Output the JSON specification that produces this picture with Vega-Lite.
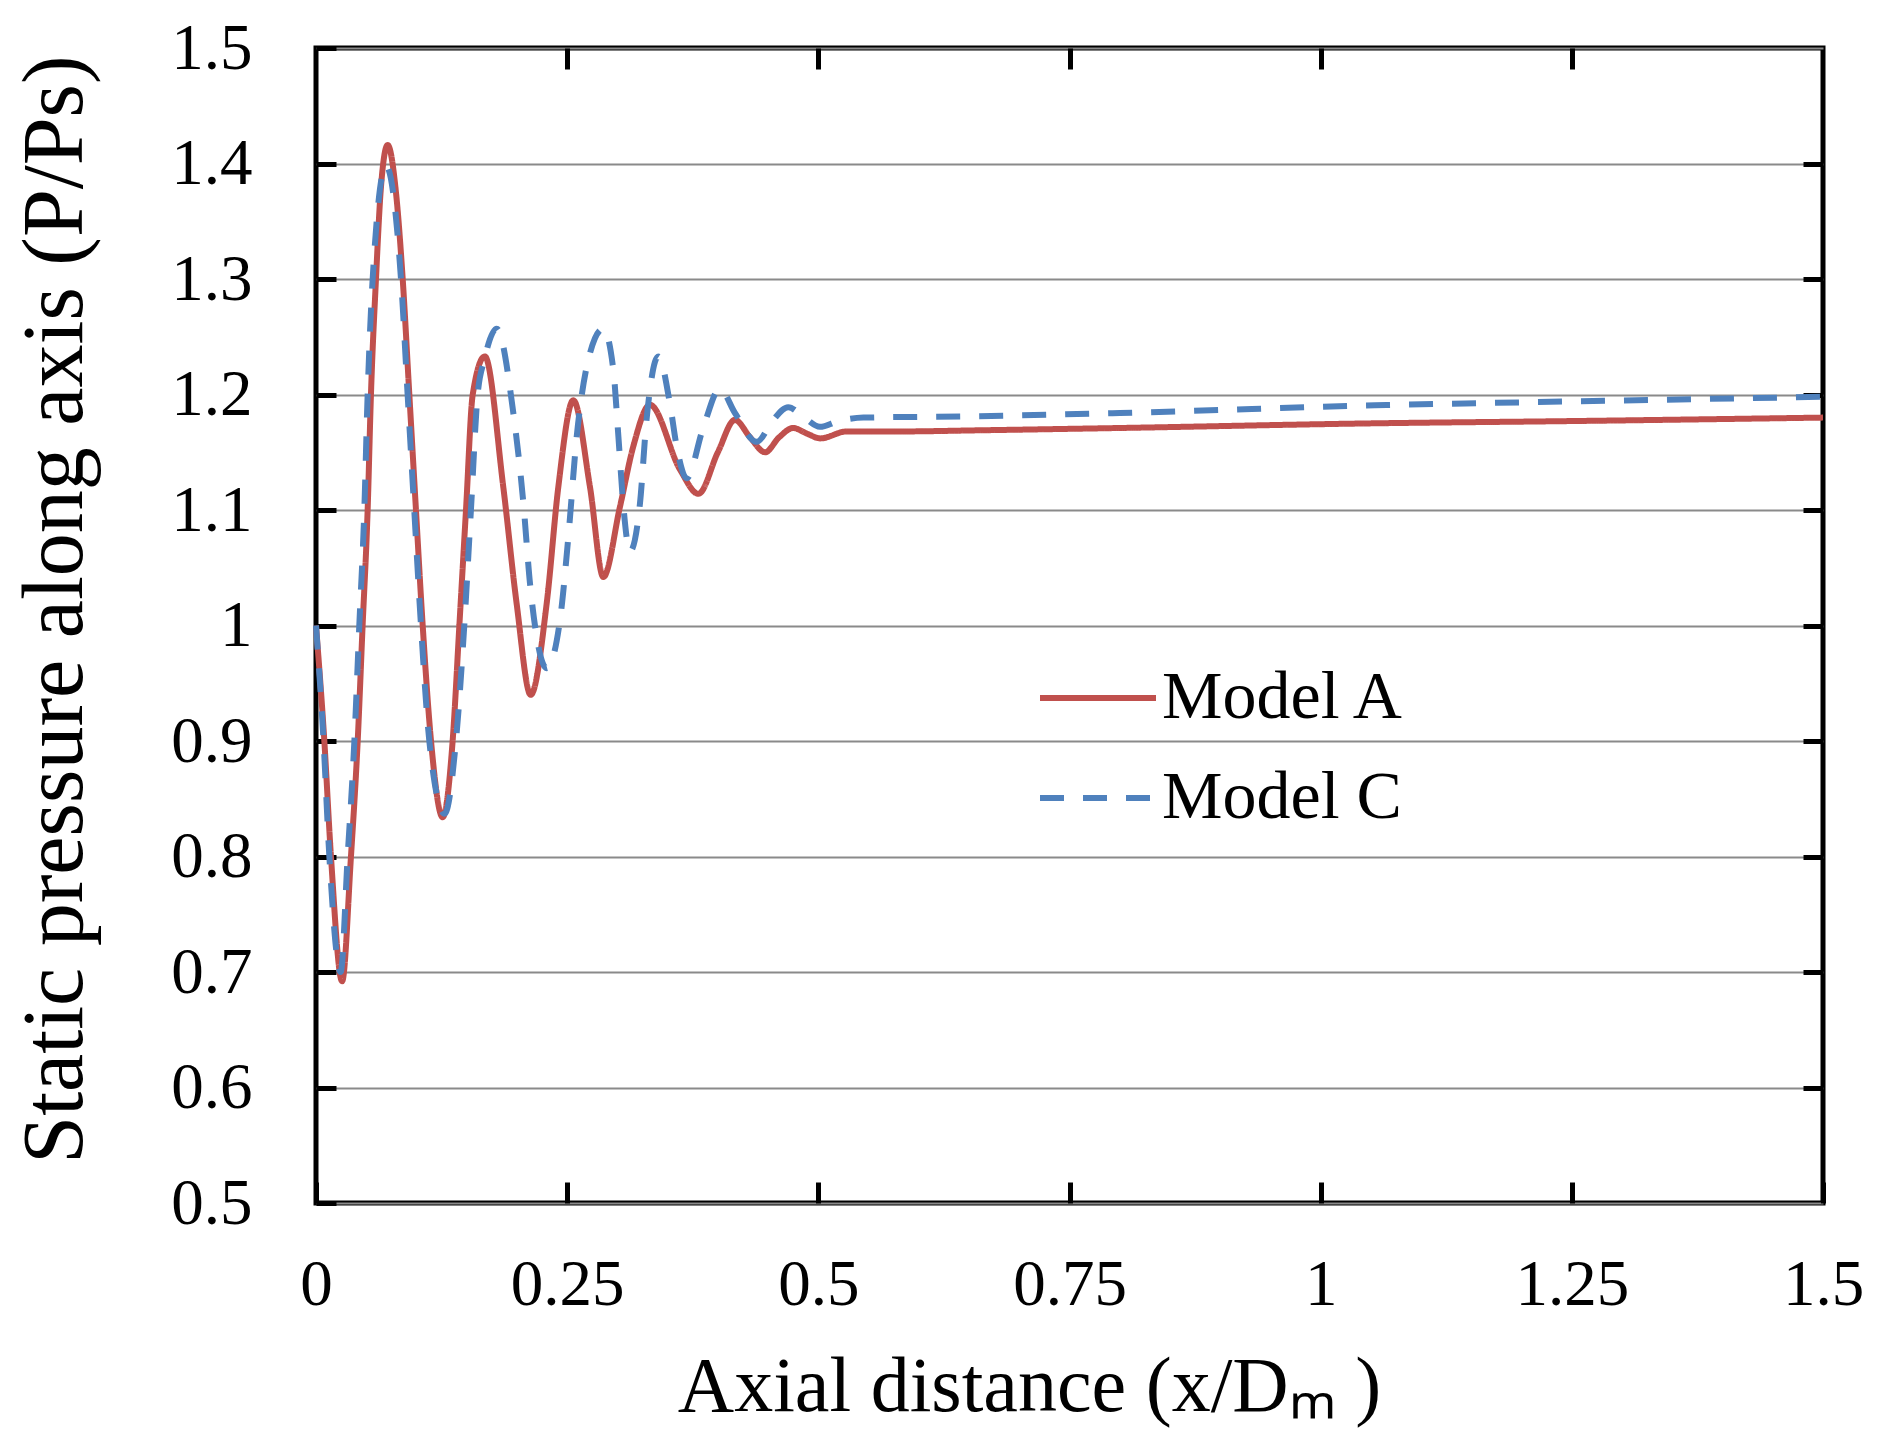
{
  "$schema": "https://vega.github.io/schema/vega-lite/v6.json",
  "width": 1507,
  "height": 1155,
  "autosize": {"type": "none"},
  "padding": {"left": 316, "top": 48, "right": 58, "bottom": 242},
  "background": "white",
  "config": {
    "view": {"stroke": "black", "strokeWidth": 5},
    "font": "Liberation Serif"
  },
  "data": {
    "values": [
      {"x": 0, "p": 1.0, "model": "Model A"},
      {"x": 0.0083, "p": 0.9, "model": "Model A"},
      {"x": 0.0149, "p": 0.8, "model": "Model A"},
      {"x": 0.026, "p": 0.692, "model": "Model A"},
      {"x": 0.0348, "p": 0.8, "model": "Model A"},
      {"x": 0.0415, "p": 0.9, "model": "Model A"},
      {"x": 0.0464, "p": 1.0, "model": "Model A"},
      {"x": 0.0514, "p": 1.1, "model": "Model A"},
      {"x": 0.0547, "p": 1.2, "model": "Model A"},
      {"x": 0.0597, "p": 1.3, "model": "Model A"},
      {"x": 0.0647, "p": 1.38, "model": "Model A"},
      {"x": 0.0713, "p": 1.416, "model": "Model A"},
      {"x": 0.0796, "p": 1.375, "model": "Model A"},
      {"x": 0.0863, "p": 1.3, "model": "Model A"},
      {"x": 0.0929, "p": 1.2, "model": "Model A"},
      {"x": 0.0995, "p": 1.1, "model": "Model A"},
      {"x": 0.1062, "p": 1.0, "model": "Model A"},
      {"x": 0.1145, "p": 0.9, "model": "Model A"},
      {"x": 0.1261, "p": 0.834, "model": "Model A"},
      {"x": 0.136, "p": 0.9, "model": "Model A"},
      {"x": 0.1427, "p": 1.0, "model": "Model A"},
      {"x": 0.1493, "p": 1.1, "model": "Model A"},
      {"x": 0.156, "p": 1.2, "model": "Model A"},
      {"x": 0.168, "p": 1.233, "model": "Model A"},
      {"x": 0.1864, "p": 1.12, "model": "Model A"},
      {"x": 0.1997, "p": 1.019, "model": "Model A"},
      {"x": 0.2137, "p": 0.94, "model": "Model A"},
      {"x": 0.2296, "p": 1.019, "model": "Model A"},
      {"x": 0.2412, "p": 1.12, "model": "Model A"},
      {"x": 0.2561, "p": 1.195, "model": "Model A"},
      {"x": 0.2727, "p": 1.12, "model": "Model A"},
      {"x": 0.286, "p": 1.042, "model": "Model A"},
      {"x": 0.3026, "p": 1.103, "model": "Model A"},
      {"x": 0.3158, "p": 1.155, "model": "Model A"},
      {"x": 0.3324, "p": 1.191, "model": "Model A"},
      {"x": 0.3623, "p": 1.135, "model": "Model A"},
      {"x": 0.3806, "p": 1.114, "model": "Model A"},
      {"x": 0.4, "p": 1.15, "model": "Model A"},
      {"x": 0.417, "p": 1.178, "model": "Model A"},
      {"x": 0.432, "p": 1.163, "model": "Model A"},
      {"x": 0.447, "p": 1.15, "model": "Model A"},
      {"x": 0.461, "p": 1.163, "model": "Model A"},
      {"x": 0.475, "p": 1.171, "model": "Model A"},
      {"x": 0.489, "p": 1.166, "model": "Model A"},
      {"x": 0.502, "p": 1.162, "model": "Model A"},
      {"x": 0.528, "p": 1.168, "model": "Model A"},
      {"x": 0.58, "p": 1.168, "model": "Model A"},
      {"x": 0.66, "p": 1.169, "model": "Model A"},
      {"x": 0.8, "p": 1.171, "model": "Model A"},
      {"x": 1.05, "p": 1.175, "model": "Model A"},
      {"x": 1.25, "p": 1.177, "model": "Model A"},
      {"x": 1.5, "p": 1.18, "model": "Model A"},

      {"x": 0, "p": 1.0, "model": "Model C"},
      {"x": 0.0075, "p": 0.9, "model": "Model C"},
      {"x": 0.0133, "p": 0.8, "model": "Model C"},
      {"x": 0.0245, "p": 0.7, "model": "Model C"},
      {"x": 0.0315, "p": 0.8, "model": "Model C"},
      {"x": 0.0382, "p": 0.9, "model": "Model C"},
      {"x": 0.0431, "p": 1.0, "model": "Model C"},
      {"x": 0.0481, "p": 1.1, "model": "Model C"},
      {"x": 0.0514, "p": 1.2, "model": "Model C"},
      {"x": 0.0564, "p": 1.3, "model": "Model C"},
      {"x": 0.0697, "p": 1.398, "model": "Model C"},
      {"x": 0.0846, "p": 1.3, "model": "Model C"},
      {"x": 0.0912, "p": 1.2, "model": "Model C"},
      {"x": 0.0978, "p": 1.1, "model": "Model C"},
      {"x": 0.1045, "p": 1.0, "model": "Model C"},
      {"x": 0.1128, "p": 0.9, "model": "Model C"},
      {"x": 0.128, "p": 0.837, "model": "Model C"},
      {"x": 0.1393, "p": 0.9, "model": "Model C"},
      {"x": 0.1476, "p": 1.0, "model": "Model C"},
      {"x": 0.1542, "p": 1.1, "model": "Model C"},
      {"x": 0.1609, "p": 1.2, "model": "Model C"},
      {"x": 0.1675, "p": 1.23, "model": "Model C"},
      {"x": 0.1798, "p": 1.257, "model": "Model C"},
      {"x": 0.1964, "p": 1.184, "model": "Model C"},
      {"x": 0.2064, "p": 1.106, "model": "Model C"},
      {"x": 0.213, "p": 1.0365, "model": "Model C"},
      {"x": 0.2197, "p": 0.99, "model": "Model C"},
      {"x": 0.2296, "p": 0.963, "model": "Model C"},
      {"x": 0.2429, "p": 1.005, "model": "Model C"},
      {"x": 0.2512, "p": 1.077, "model": "Model C"},
      {"x": 0.2595, "p": 1.1635, "model": "Model C"},
      {"x": 0.271, "p": 1.23, "model": "Model C"},
      {"x": 0.286, "p": 1.257, "model": "Model C"},
      {"x": 0.296, "p": 1.221, "model": "Model C"},
      {"x": 0.301, "p": 1.1635, "model": "Model C"},
      {"x": 0.306, "p": 1.103, "model": "Model C"},
      {"x": 0.3125, "p": 1.064, "model": "Model C"},
      {"x": 0.3225, "p": 1.106, "model": "Model C"},
      {"x": 0.329, "p": 1.178, "model": "Model C"},
      {"x": 0.3407, "p": 1.233, "model": "Model C"},
      {"x": 0.3523, "p": 1.192, "model": "Model C"},
      {"x": 0.359, "p": 1.155, "model": "Model C"},
      {"x": 0.369, "p": 1.1275, "model": "Model C"},
      {"x": 0.385, "p": 1.17, "model": "Model C"},
      {"x": 0.402, "p": 1.205, "model": "Model C"},
      {"x": 0.417, "p": 1.184, "model": "Model C"},
      {"x": 0.4386, "p": 1.159, "model": "Model C"},
      {"x": 0.455, "p": 1.178, "model": "Model C"},
      {"x": 0.47, "p": 1.189, "model": "Model C"},
      {"x": 0.486, "p": 1.18, "model": "Model C"},
      {"x": 0.5016, "p": 1.172, "model": "Model C"},
      {"x": 0.52, "p": 1.177, "model": "Model C"},
      {"x": 0.545, "p": 1.18, "model": "Model C"},
      {"x": 0.644, "p": 1.181, "model": "Model C"},
      {"x": 0.8, "p": 1.184, "model": "Model C"},
      {"x": 1.054, "p": 1.1906, "model": "Model C"},
      {"x": 1.25, "p": 1.194, "model": "Model C"},
      {"x": 1.5, "p": 1.198, "model": "Model C"}
    ]
  },
  "layer": [
    {
      "mark": {"type": "line", "strokeWidth": 6, "interpolate": "monotone"},
      "encoding": {
        "x": {
          "field": "x",
          "type": "quantitative",
          "scale": {"domain": [0, 1.5], "nice": false, "zero": false},
          "axis": {
            "orient": "bottom",
            "values": [0, 0.25, 0.5, 0.75, 1, 1.25, 1.5],
            "labelExpr": "format(datum.value, '~g')",
            "labelFlush": false,
            "labelFont": "Liberation Serif",
            "labelFontSize": 65,
            "labelColor": "black",
            "labelPadding": 71,
            "labelOverlap": false,
            "tickSize": -21,
            "tickWidth": 5,
            "tickColor": "black",
            "domain": false,
            "grid": false,
            "title": "Axial distance (x/Dₘ )",
            "titleFont": "Liberation Serif",
            "titleFontSize": 78,
            "titleFontWeight": "normal",
            "titleColor": "black",
            "titleBaseline": "alphabetic",
            "titleAlign": "center",
            "titleX": 713,
            "titleY": 207
          }
        },
        "y": {
          "field": "p",
          "type": "quantitative",
          "scale": {"domain": [0.5, 1.5], "nice": false, "zero": false},
          "axis": {
            "orient": "left",
            "values": [0.5, 0.6, 0.7, 0.8, 0.9, 1, 1.1, 1.2, 1.3, 1.4, 1.5],
            "labelExpr": "format(datum.value, '~g')",
            "labelFont": "Liberation Serif",
            "labelFontSize": 65,
            "labelColor": "black",
            "labelPadding": 84,
            "labelOverlap": false,
            "labelFlush": false,
            "tickSize": -20,
            "tickWidth": 5,
            "tickColor": "black",
            "domain": false,
            "grid": true,
            "gridColor": "#8a8a8a",
            "gridWidth": 2,
            "title": "Static pressure along axis (P/Ps)",
            "titleFont": "Liberation Serif",
            "titleFontSize": 86,
            "titleFontWeight": "normal",
            "titleColor": "black",
            "titleAngle": -90,
            "titleBaseline": "alphabetic",
            "titleAlign": "center",
            "titleX": -235,
            "titleY": 561
          }
        },
        "color": {
          "field": "model",
          "type": "nominal",
          "scale": {"domain": ["Model A", "Model C"], "range": ["#C0504D", "#4F81BD"]},
          "legend": {
            "title": null,
            "orient": "none",
            "legendX": 721,
            "legendY": 589,
            "direction": "vertical",
            "symbolType": "stroke",
            "symbolSize": 13456,
            "symbolStrokeWidth": 6,
            "labelFont": "Liberation Serif",
            "labelFontSize": 68,
            "labelColor": "black",
            "labelLimit": 0,
            "labelOffset": 3,
            "rowPadding": 5,
            "padding": 0
          }
        },
        "strokeDash": {
          "field": "model",
          "type": "nominal",
          "scale": {"domain": ["Model A", "Model C"], "range": [[1, 0], [24, 19]]},
          "legend": null
        }
      }
    },
    {
      "mark": {"type": "point", "opacity": 0},
      "encoding": {
        "x": {
          "field": "x",
          "type": "quantitative",
          "axis": {
            "orient": "top",
            "values": [0.25, 0.5, 0.75, 1, 1.25],
            "labels": false,
            "tickSize": -21,
            "tickWidth": 5,
            "tickColor": "black",
            "domain": false,
            "grid": false,
            "title": null
          }
        },
        "y": {
          "field": "p",
          "type": "quantitative",
          "axis": {
            "orient": "right",
            "values": [0.6, 0.7, 0.8, 0.9, 1, 1.1, 1.2, 1.3, 1.4],
            "labels": false,
            "tickSize": -20,
            "tickWidth": 5,
            "tickColor": "black",
            "domain": false,
            "grid": false,
            "title": null
          }
        }
      }
    }
  ],
  "resolve": {"axis": {"x": "independent", "y": "independent"}}
}
